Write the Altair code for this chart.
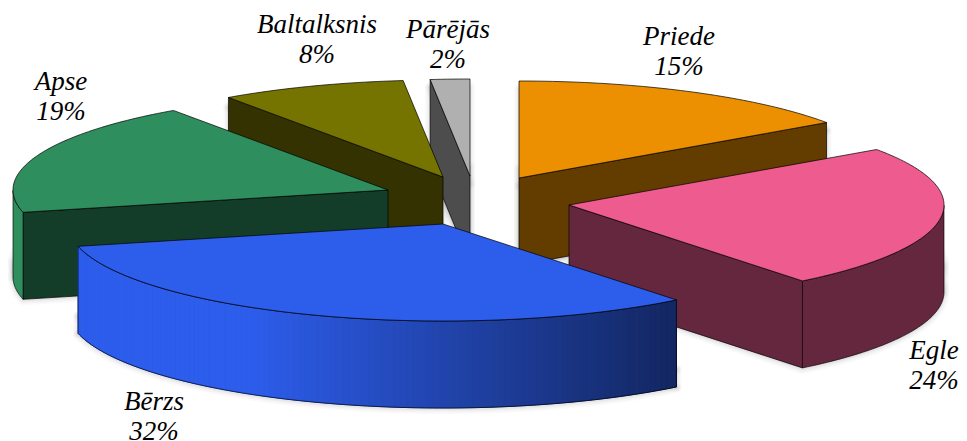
import math
import altair as alt

# ---- data ----
names = ["Priede", "Egle", "Bērzs", "Apse", "Baltalksnis", "Pārējās"]
shares = [15, 24, 32, 19, 8, 2]

# ---- styling / layout ----
TOP = ["#EC8F00", "#EE5B8E", "#2D5DEB", "#2E8E5E", "#767400", "#B0B0B0"]
SIDE = ["#633C00", "#64273D", "#13265F", "#143D29", "#343200", "#4D4D4D"]
APEX = [(519, 178), (569, 205), (443, 224), (388, 190), (443, 177), (470, 176)]
SHADOW_FROM = [8, 60, 70, 72, 10, 8]
LABEL_POS = [(679, 37), (934, 351), (154, 402), (61, 82), (317, 25), (448, 30)]
RX, RY, DEPTH = 375.0, 97.0, 87.0
ANGLE_SHIFT = 1.1  # degrees, foreshortening of the inner slice boundaries
M = 8  # page margin
PAINT = [0, 5, 4, 3, 1, 2]  # back to front
HALO = ((10, 0.07), (7, 0.09), (4, 0.11), (2, 0.13))


def mix(a, b, t):
    pa = [int(a[i:i + 2], 16) for i in (1, 3, 5)]
    pb = [int(b[i:i + 2], 16) for i in (1, 3, 5)]
    return "#" + "".join(f"{round(x + (y - x) * t):02x}" for x, y in zip(pa, pb))


def arc_colour(i, x):
    if names[i] == "Bērzs":
        t = min(1.0, max(0.0, (x - 250) / 430))
        return mix(TOP[i], SIDE[i], t)
    if names[i] == "Apse":
        return TOP[i]
    return SIDE[i]


def feat(points, fill, stroke, width=0.0, opacity=1.0):
    ring = [[x - M, y - M] for x, y in points]
    ring.append(ring[0])
    return {
        "type": "Feature",
        "geometry": {"type": "Polygon", "coordinates": [ring]},
        "properties": {"fill": fill, "stroke": stroke, "w": width, "o": opacity},
    }


def boundary(pct):
    deg = pct * 3.6
    return math.radians(deg + ANGLE_SHIFT if 0 < pct < 100 else deg)


# sector outlines from the shares
sectors = []
acc = 0.0
for i, s in enumerate(shares):
    a0, a1 = boundary(acc), boundary(acc + s)
    acc += s
    n = max(2, round(s * 3.6))
    cx, cy = APEX[i]
    arc = [(cx + RX * math.sin(a0 + (a1 - a0) * k / n),
            cy - RY * math.cos(a0 + (a1 - a0) * k / n)) for k in range(n + 1)]
    sectors.append(((cx, cy), arc))

features = []

# soft shadows below everything
for i in PAINT:
    apex, arc = sectors[i]
    d = SHADOW_FROM[i]
    ring0 = [apex] + arc
    left = min(ring0, key=lambda p: p[0])
    right = max(ring0, key=lambda p: p[0])
    quad = [(left[0], left[1] + d), (right[0], right[1] + d),
            (right[0], right[1] + DEPTH), (left[0], left[1] + DEPTH)]
    sweep = [[(x, y + d) for x, y in ring0], [(x, y + DEPTH + 1) for x, y in ring0], quad]
    for shape in sweep:
        for w, o in HALO:
            features.append(feat(shape, "#808080", "#808080", w, o / 2))

# slices
for i in PAINT:
    apex, arc = sectors[i]
    ring = [apex] + arc
    m = len(ring)
    walls = []
    for k in range(m):
        a, b = ring[k], ring[(k + 1) % m]
        if b[0] < a[0]:  # edge runs right to left on screen: its wall faces the viewer
            walls.append(([a, b, (b[0], b[1] + DEPTH), (a[0], a[1] + DEPTH)], 0 < k < m - 1))
    for quad, on_arc in walls:
        if not on_arc:
            features.append(feat(quad, SIDE[i], "#000000", 0.7, 1.0))
    arc_walls = [q for q, oa in walls if oa]
    if arc_walls:
        outline = [q[0] for q in arc_walls] + [arc_walls[-1][1], arc_walls[-1][2]] + \
                  [q[3] for q in reversed(arc_walls)]
        mid = arc_walls[len(arc_walls) // 2][0][0]
        features.append(feat(outline, arc_colour(i, mid), "#000000", 0.0, 1.0))
        if names[i] == "Bērzs":  # gradient bands, laid over a solid base so no seam shows
            for quad in arc_walls:
                col = arc_colour(i, (quad[0][0] + quad[1][0]) / 2)
                features.append(feat(quad, col, col, 1.0))
        features.append(feat(outline, "transparent", "#000000", 0.7, 0.9))
    features.append(feat(ring, TOP[i], "#000000", 0.7, 1.0))

PROJ = dict(type="identity", scale=1, translate=[0, 0])

shapes = (
    alt.Chart(alt.InlineData(values={"type": "FeatureCollection", "features": features},
                             format=alt.DataFormat(property="features", type="json")))
    .mark_geoshape(strokeJoin="round")
    .encode(
        fill=alt.Fill("properties.fill:N", scale=None),
        stroke=alt.Stroke("properties.stroke:N", scale=None),
        strokeWidth=alt.StrokeWidth("properties.w:Q", scale=None),
        opacity=alt.Opacity("properties.o:Q", scale=None),
    )
    .project(**PROJ)
)

labels = (
    alt.Chart(alt.Data(values=[
        {"t": f"{n}\n{s}%", "lon": x - M, "lat": y - M}
        for n, s, (x, y) in zip(names, shares, LABEL_POS)
    ]))
    .mark_text(font="Liberation Serif", fontStyle="italic", fontSize=27, lineBreak="\n",
               lineHeight=30, align="center", baseline="middle", color="#000000")
    .encode(longitude="lon:Q", latitude="lat:Q", text="t:N")
    .project(**PROJ)
)

chart = (
    alt.layer(shapes, labels)
    .properties(width=951, height=433, padding=0, background="#FFFFFF",
                autosize=alt.AutoSizeParams(type="none"))
    .configure_view(stroke=None)
)

chart.save("out.html", embed_options={"renderer": "svg", "actions": False})
